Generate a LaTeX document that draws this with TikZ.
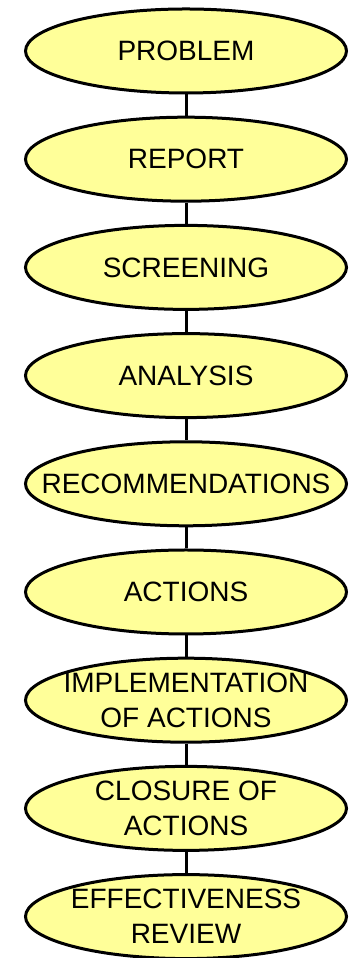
\documentclass[tikz,border=0pt]{standalone}
\usepackage{fontspec}
\setmainfont{Liberation Sans}
\usetikzlibrary{shapes.geometric}
\definecolor{stagefill}{RGB}{255,255,153}
\tikzset{
  stage/.style={ellipse, draw=black, line width=3pt, fill=stagefill,
    minimum width=321pt, minimum height=84pt, inner sep=0pt},
  stagetext/.style={align=center, inner sep=0pt,
    font=\fontsize{28}{35}\selectfont},
  link/.style={draw=black, line width=3pt}
}
\begin{document}
\begin{tikzpicture}[x=1pt,y=1pt]
  \useasboundingbox (0,0) rectangle (351,958);
  \foreach \n/\y/\t in {
      1/907/PROBLEM,
      2/798.8/REPORT,
      3/690.6/SCREENING,
      4/582.4/ANALYSIS,
      5/474.2/RECOMMENDATIONS,
      6/366/ACTIONS,
      7/257.8/{IMPLEMENTATION\\OF ACTIONS},
      8/149.6/{CLOSURE OF\\ACTIONS},
      9/41.4/{EFFECTIVENESS\\REVIEW}}
  {
    \node[stage] (s\n) at (186,\y) {};
    \node[stagetext] (t\n) at (s\n.center) {\t};
  }
  \foreach \a/\b in {s1/s2,s2/s3,s3/s4,s4/s5,s5/s6,s6/s7,s7/s8,s8/s9}
    \draw[link] (\a.south) -- (\b.north);
\end{tikzpicture}
\end{document}
